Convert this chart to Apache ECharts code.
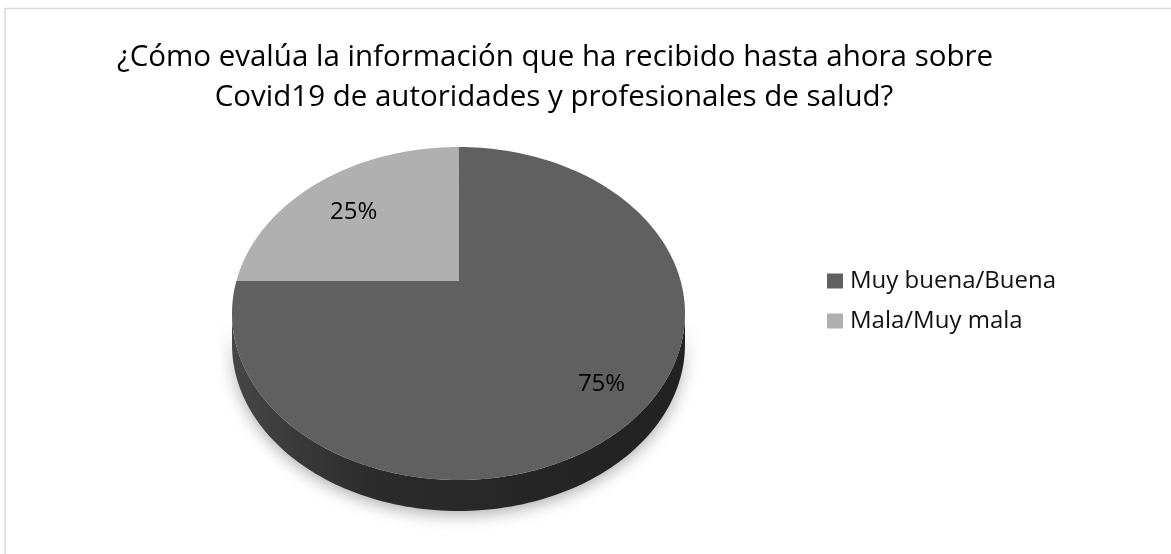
<!DOCTYPE html>
<html><head><meta charset="utf-8">
<script src="https://cdn.jsdelivr.net/npm/echarts@6/dist/echarts.min.js"></script>
<style>html,body{margin:0;padding:0;background:#fff}#c{width:1171px;height:554px}</style>
</head><body><div id="c"></div>
<script>
// ---- data ----
const titleLines = ['¿Cómo evalúa la información que ha recibido hasta ahora sobre',
                    'Covid19 de autoridades y profesionales de salud?'];
const categories = ['Muy buena/Buena', 'Mala/Muy mala'];
const values = [75, 25];

// ---- styles / layout ----
const colors = ['#606060', '#b0b0b0'];
const FONT = '"Open Sans", sans-serif';
const G = {cx: 458.5, cy: 313.5, rx: 226.5, ry: 166.5, ax: 458.5, ay: 281, h: 31, ly: 288};
const labelK = [[0.893, 0.816], [0.655, 0.646]];

const total = values.reduce((a, b) => a + b, 0);

function edgePoint(phi) {
  const dx = Math.sin(phi), dy = -Math.cos(phi);
  const u0 = G.ax - G.cx, v0 = G.ay - G.cy;
  const A = dx * dx / (G.rx * G.rx) + dy * dy / (G.ry * G.ry);
  const B = 2 * (u0 * dx / (G.rx * G.rx) + v0 * dy / (G.ry * G.ry));
  const C = u0 * u0 / (G.rx * G.rx) + v0 * v0 / (G.ry * G.ry) - 1;
  const s = (-B + Math.sqrt(B * B - 4 * A * C)) / (2 * A);
  const x = G.ax + s * dx, y = G.ay + s * dy;
  return Math.atan2((y - G.cy) / G.ry, (x - G.cx) / G.rx);
}
function ell(t, off) { return [G.cx + G.rx * Math.cos(t), G.cy + G.ry * Math.sin(t) + (off || 0)]; }

function renderItem(params, api) {
  const i = params.seriesIndex;
  let before = 0;
  for (let k = 0; k < i; k++) before += values[k];
  const v = api.value(0);
  const phi0 = before / total * 2 * Math.PI;
  const phi1 = (before + v) / total * 2 * Math.PI;
  const t0 = edgePoint(phi0);
  let t1 = edgePoint(phi1);
  while (t1 <= t0) t1 += 2 * Math.PI;
  const children = [];
  // side (front half: t in [0, PI] or [2PI, 3PI])
  [0, 2 * Math.PI, -2 * Math.PI].forEach(base => {
    const a = Math.max(t0, base), b = Math.min(t1, base + Math.PI);
    if (b > a) {
      const pts = [];
      const n = 120;
      for (let j = 0; j <= n; j++) pts.push(ell(a + (b - a) * j / n, 0));
      for (let j = n; j >= 0; j--) pts.push(ell(a + (b - a) * j / n, G.h));
      children.push({
        type: 'polygon', shape: {points: pts},
        style: {
          fill: new echarts.graphic.LinearGradient(0, 0, 1, 0, [
            {offset: 0, color: '#464646'}, {offset: 0.3, color: '#2c2c2c'},
            {offset: 0.7, color: '#252525'}, {offset: 1, color: '#222222'}]),
          shadowBlur: 16, shadowColor: 'rgba(0,0,0,0.32)', shadowOffsetY: 4
        }
      });
    }
  });
  // top face
  const top = [[G.ax, G.ay]];
  const n = 200;
  for (let j = 0; j <= n; j++) top.push(ell(t0 + (t1 - t0) * j / n, 0));
  children.push({type: 'polygon', shape: {points: top}, style: {fill: colors[i]}});
  // label
  const pm = (phi0 + phi1) / 2;
  const k = labelK[i];
  children.push({
    type: 'text',
    x: G.ax + k[0] * G.rx * Math.sin(pm),
    y: G.ly - k[1] * G.ry * Math.cos(pm),
    style: {text: Math.round(v / total * 100) + '%', fill: '#000', fontSize: 24,
            fontFamily: FONT, align: 'center', verticalAlign: 'middle'}
  });
  return {type: 'group', children: children};
}

const chart = echarts.init(document.getElementById('c'), null, {renderer: 'canvas'});
chart.setOption({
  backgroundColor: '#ffffff',
  animation: false,
  graphic: [
    {type: 'rect', shape: {x: 5, y: 8.5, width: 1300, height: 700},
     style: {fill: 'none', stroke: '#d9d9d9', lineWidth: 1.5}, z: -10},
    {type: 'text', x: 555, y: 58, style: {text: titleLines[0], fontSize: 29.5, fontFamily: FONT,
      fill: '#000', align: 'center', verticalAlign: 'middle'}},
    {type: 'text', x: 554, y: 98, style: {text: titleLines[1], fontSize: 29.5, fontFamily: FONT,
      fill: '#000', align: 'center', verticalAlign: 'middle'}}
  ],
  legend: {
    orient: 'vertical', left: 827, top: 269, padding: 0,
    itemWidth: 16, itemHeight: 15, itemGap: 16, icon: 'rect',
    data: categories,
    textStyle: {fontSize: 24, lineHeight: 24, fontFamily: FONT, color: '#111', padding: [0, 0, 0, 2]}
  },
  series: categories.map((name, i) => ({
    type: 'custom', name: name, coordinateSystem: 'none',
    itemStyle: {color: colors[i]},
    data: [[values[i]]],
    renderItem: renderItem,
    z: 2 + i
  }))
});
</script></body></html>
